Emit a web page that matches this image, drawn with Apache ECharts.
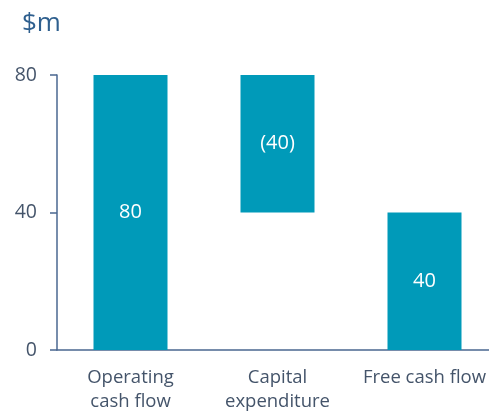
<!DOCTYPE html>
<html>
<head>
<meta charset="utf-8">
<script src="https://cdn.jsdelivr.net/npm/echarts@6/dist/echarts.min.js"></script>
<style>
  html, body { margin: 0; padding: 0; background: #fff; overflow: hidden; }
  #main { width: 500px; height: 414px; }
</style>
</head>
<body>
<div id="main"></div>
<script>
var categories = ['Operating\ncash flow', 'Capital\nexpenditure', 'Free cash flow'];
var baseValues = [0, 40, 0];
var barValues = [80, 40, 40];
var barLabels = ['80', '(40)', '40'];
var yTicks = [0, 40, 80];

var chartDom = document.getElementById('main');
var myChart = echarts.init(chartDom);
var option;

var font = 'Open Sans';
var textColor = '#44546a';

option = {
    animation: false,
    textStyle: { fontFamily: font },
    title: {
        text: '$m',
        left: 17,
        top: 6,
        textStyle: { fontFamily: font, fontSize: 26, fontWeight: 'normal', color: '#2e5f8e' }
    },
    grid: { left: 57, top: 75, width: 441, bottom: 62 },
    xAxis: {
        type: 'category',
        data: categories,
        axisLine: { lineStyle: { color: '#4a6790', width: 1.5 } },
        axisTick: { show: false },
        axisLabel: { fontSize: 18.5, color: textColor, lineHeight: 24, margin: 16, interval: 0 }
    },
    yAxis: {
        type: 'value',
        min: yTicks[0],
        max: yTicks[yTicks.length - 1],
        interval: 40,
        splitLine: { show: false },
        axisLine: { show: true, lineStyle: { color: '#4a6790', width: 1.5 } },
        axisTick: { show: true, length: 7, lineStyle: { color: '#4a6790', width: 1.5 } },
        axisLabel: { fontSize: 19.5, color: textColor, margin: 20 }
    },
    series: [
        {
            name: 'base',
            type: 'bar',
            stack: 'wf',
            silent: true,
            itemStyle: { color: 'transparent' },
            data: baseValues
        },
        {
            name: 'value',
            type: 'bar',
            stack: 'wf',
            barWidth: 74,
            itemStyle: { color: '#009ab9' },
            label: {
                show: true,
                position: 'inside',
                color: '#fff',
                fontSize: 20,
                formatter: function (p) { return barLabels[p.dataIndex]; }
            },
            data: barValues
        }
    ]
};

option && myChart.setOption(option);
</script>
</body>
</html>
